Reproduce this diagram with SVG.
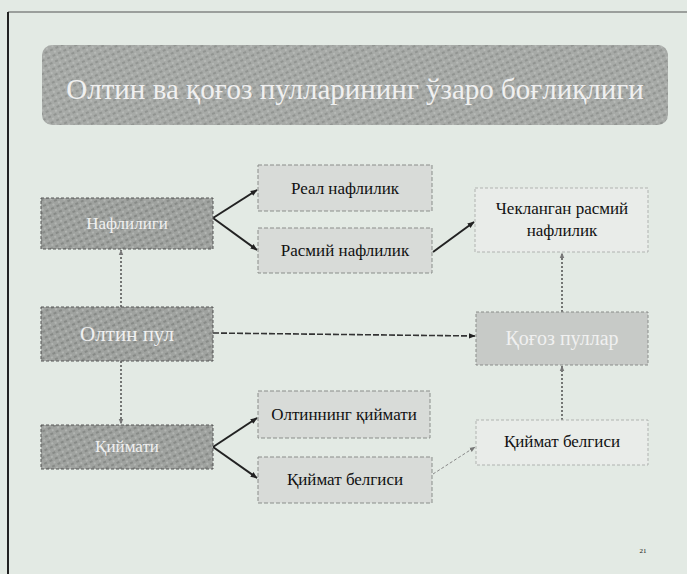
<svg xmlns="http://www.w3.org/2000/svg" width="687" height="574" viewBox="0 0 687 574">
<defs>
<pattern id="tex" width="6" height="6" patternUnits="userSpaceOnUse" patternTransform="rotate(-25)">
<rect width="6" height="6" fill="#9fa29f"/>
<line x1="0" y1="1" x2="3" y2="1" stroke="#6f726f" stroke-width="1"/>
<line x1="3" y1="4" x2="5" y2="4" stroke="#c4c7c4" stroke-width="1"/>
</pattern>
<pattern id="tex2" width="6" height="6" patternUnits="userSpaceOnUse" patternTransform="rotate(-25)">
<rect width="6" height="6" fill="#a7aaa7"/>
<line x1="0" y1="1" x2="3" y2="1" stroke="#7c7f7c" stroke-width="1"/>
<line x1="3" y1="4" x2="5" y2="4" stroke="#c6c9c6" stroke-width="1"/>
</pattern>
<marker id="ah" viewBox="0 0 10 10" refX="9" refY="5" markerWidth="7" markerHeight="7" orient="auto" markerUnits="userSpaceOnUse">
<path d="M0,1 L10,5 L0,9 Z" fill="#222"/>
</marker>
<marker id="ahl" viewBox="0 0 10 10" refX="9" refY="5" markerWidth="6" markerHeight="6" orient="auto" markerUnits="userSpaceOnUse">
<path d="M0,1 L10,5 L0,9 Z" fill="#777"/>
</marker>
</defs>
<style>
.dark rect{fill:url(#tex);stroke:#555;stroke-width:1;stroke-dasharray:3 2}
.mid rect{fill:#d8dbd8;stroke:#8a8d8a;stroke-width:1;stroke-dasharray:4 2}
.light rect{fill:#e9ece9;stroke:#b0b3b0;stroke-width:1;stroke-dasharray:3 2}
.paper rect{fill:#c7cac7;stroke:#8a8d8a;stroke-width:1;stroke-dasharray:3 2}
.wt{font-family:"Liberation Serif",serif;fill:#f0f0f0;text-anchor:middle}
.bt{font-family:"Liberation Serif",serif;fill:#111;text-anchor:middle;font-size:17px}
.solid{stroke:#222;stroke-width:2;fill:none;marker-end:url(#ah)}
.dash{stroke:#333;stroke-width:1.6;fill:none;stroke-dasharray:6 2;marker-end:url(#ah)}
.dot{stroke:#444;stroke-width:1.4;fill:none;stroke-dasharray:2 2;marker-end:url(#ahl)}
.thin{stroke:#888;stroke-width:1;fill:none;stroke-dasharray:3 2;marker-end:url(#ahl)}
</style>
<rect width="687" height="574" fill="#e3eae4"/>
<line x1="8" y1="12" x2="687" y2="12" stroke="#555" stroke-width="1.2"/>
<line x1="8" y1="12" x2="8" y2="574" stroke="#222" stroke-width="2"/>

<g id="title">
<rect x="42" y="45" width="626" height="80" rx="10" fill="url(#tex2)"/>
<text x="355" y="99" class="wt" font-size="29">Олтин ва қоғоз пулларининг ўзаро боғлиқлиги</text>
</g>

<g id="connectors">
<line class="solid" x1="213" y1="218" x2="257" y2="190"/>
<line class="solid" x1="213" y1="218" x2="257" y2="250"/>
<line class="solid" x1="433" y1="252" x2="474" y2="222"/>
<line class="dash" x1="213" y1="333" x2="475" y2="336"/>
<line class="dot" x1="121" y1="307" x2="121" y2="250"/>
<line class="dot" x1="121" y1="361" x2="121" y2="424"/>
<line class="solid" x1="213" y1="447" x2="257" y2="418"/>
<line class="solid" x1="213" y1="447" x2="257" y2="478"/>
<line class="thin" x1="433" y1="474" x2="475" y2="447"/>
<line class="dot" x1="562" y1="312" x2="562" y2="253"/>
<line class="dot" x1="562" y1="420" x2="562" y2="366"/>
</g>

<g id="naflilig" class="dark">
<rect x="41" y="198" width="172" height="51"/>
<text x="127" y="229" class="wt" font-size="17">Нафлилиги</text>
</g>
<g id="real" class="mid">
<rect x="258" y="165" width="174" height="46"/>
<text x="345" y="194" class="bt">Реал нафлилик</text>
</g>
<g id="rasmiy" class="mid">
<rect x="258" y="228" width="174" height="45"/>
<text x="345" y="256" class="bt">Расмий нафлилик</text>
</g>
<g id="cheklangan" class="light">
<rect x="475" y="188" width="173" height="64"/>
<text x="562" y="214" class="bt">Чекланган расмий</text>
<text x="562" y="236" class="bt">нафлилик</text>
</g>
<g id="oltin" class="dark">
<rect x="41" y="307" width="172" height="54"/>
<text x="127" y="341" class="wt" font-size="21">Олтин пул</text>
</g>
<g id="qogoz" class="paper">
<rect x="476" y="312" width="172" height="53"/>
<text x="562" y="345" class="wt" font-size="20">Қоғоз пуллар</text>
</g>
<g id="qiymati" class="dark">
<rect x="41" y="425" width="172" height="44"/>
<text x="127" y="452" class="wt" font-size="17">Қиймати</text>
</g>
<g id="oltinqiymati" class="mid">
<rect x="258" y="391" width="172" height="47"/>
<text x="344" y="420" class="bt">Олтиннинг қиймати</text>
</g>
<g id="belgisi1" class="mid">
<rect x="258" y="457" width="174" height="46"/>
<text x="345" y="485" class="bt">Қиймат белгиси</text>
</g>
<g id="belgisi2" class="light">
<rect x="476" y="420" width="172" height="45"/>
<text x="562" y="447" class="bt">Қиймат белгиси</text>
</g>
<text x="643" y="553" class="bt" style="font-size:7px">21</text>
</svg>
